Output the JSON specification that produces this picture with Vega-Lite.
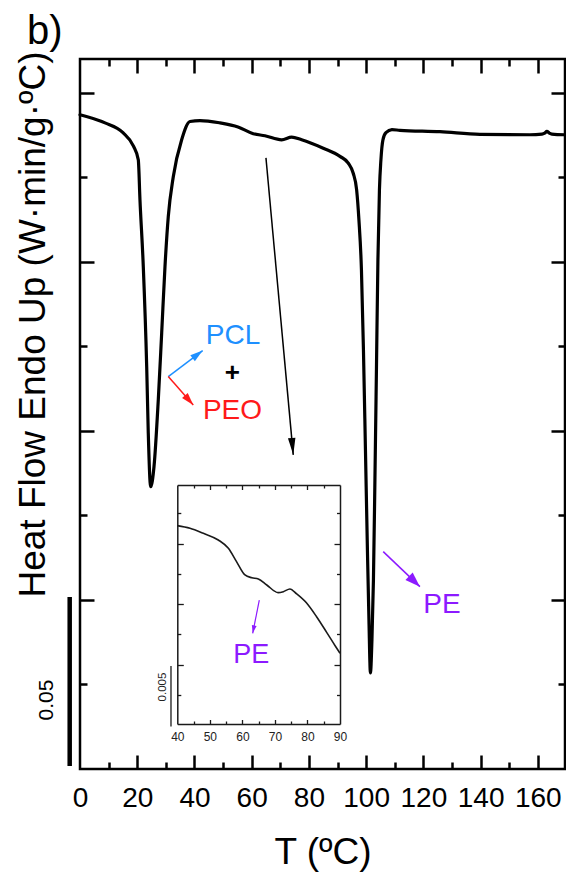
{
  "$schema": "https://vega.github.io/schema/vega-lite/v6.json",
  "width": 485,
  "height": 710,
  "autosize": "none",
  "padding": {"left": 80, "top": 59, "right": 1, "bottom": 103},
  "background": "white",
  "datasets": {
    "curve": [
      {"T": 0.0, "hf": 0.1935}, {"T": 8.74, "hf": 0.1911}, {"T": 15.02, "hf": 0.1882},
      {"T": 18.69, "hf": 0.1842}, {"T": 20.37, "hf": 0.1802}, {"T": 20.96, "hf": 0.1683},
      {"T": 22.12, "hf": 0.1486}, {"T": 23.31, "hf": 0.119}, {"T": 23.86, "hf": 0.0994},
      {"T": 24.7, "hf": 0.0835}, {"T": 25.86, "hf": 0.0894}, {"T": 27.36, "hf": 0.1092},
      {"T": 28.55, "hf": 0.129}, {"T": 29.7, "hf": 0.1486}, {"T": 30.85, "hf": 0.1634},
      {"T": 32.6, "hf": 0.1752}, {"T": 35.53, "hf": 0.1861}, {"T": 38.43, "hf": 0.1915},
      {"T": 41.93, "hf": 0.1918}, {"T": 48.92, "hf": 0.1911}, {"T": 55.21, "hf": 0.1899},
      {"T": 60.55, "hf": 0.1879}, {"T": 64.64, "hf": 0.1873}, {"T": 70.48, "hf": 0.1861},
      {"T": 73.97, "hf": 0.1869}, {"T": 77.46, "hf": 0.1861}, {"T": 85.01, "hf": 0.1836},
      {"T": 90.85, "hf": 0.1812}, {"T": 93.75, "hf": 0.1792}, {"T": 95.49, "hf": 0.1762},
      {"T": 96.68, "hf": 0.1713}, {"T": 97.48, "hf": 0.1624}, {"T": 98.36, "hf": 0.1476},
      {"T": 99.06, "hf": 0.124}, {"T": 99.76, "hf": 0.0944}, {"T": 100.45, "hf": 0.0648},
      {"T": 100.98, "hf": 0.0441}, {"T": 101.5, "hf": 0.0284}, {"T": 102.03, "hf": 0.0382},
      {"T": 102.55, "hf": 0.0559}, {"T": 103.07, "hf": 0.0855}, {"T": 103.6, "hf": 0.1181},
      {"T": 104.12, "hf": 0.1506}, {"T": 104.65, "hf": 0.1713}, {"T": 105.17, "hf": 0.1802},
      {"T": 105.87, "hf": 0.1861}, {"T": 106.92, "hf": 0.1882}, {"T": 109.01, "hf": 0.1891},
      {"T": 111.81, "hf": 0.1889}, {"T": 125.79, "hf": 0.1885}, {"T": 139.76, "hf": 0.1877},
      {"T": 157.23, "hf": 0.1876}, {"T": 161.43, "hf": 0.1878}, {"T": 162.4, "hf": 0.1881},
      {"T": 163.17, "hf": 0.1886}, {"T": 164.0, "hf": 0.1881}, {"T": 164.92, "hf": 0.1878},
      {"T": 169.46, "hf": 0.1876}
    ],
    "inset": [
      {"Ti": 40.0, "hfi": 0.0165}, {"Ti": 43.9, "hfi": 0.01628}, {"Ti": 48.0, "hfi": 0.01586},
      {"Ti": 52.6, "hfi": 0.01531}, {"Ti": 55.7, "hfi": 0.01462}, {"Ti": 58.2, "hfi": 0.01352},
      {"Ti": 60.8, "hfi": 0.01242}, {"Ti": 62.9, "hfi": 0.01219}, {"Ti": 64.9, "hfi": 0.01209},
      {"Ti": 67.5, "hfi": 0.01159}, {"Ti": 71.0, "hfi": 0.01096}, {"Ti": 72.6, "hfi": 0.01104},
      {"Ti": 74.6, "hfi": 0.01126}, {"Ti": 76.7, "hfi": 0.01085}, {"Ti": 79.8, "hfi": 0.01008},
      {"Ti": 82.8, "hfi": 0.00897}, {"Ti": 85.9, "hfi": 0.00768}, {"Ti": 88.5, "hfi": 0.00657},
      {"Ti": 90.0, "hfi": 0.00595}
    ],
    "arrows": [
      {"polymer": "PCL", "T": 30.85, "hf": 0.11607, "T2": 42.87, "hf2": 0.12376},
      {"polymer": "PEO", "T": 30.85, "hf": 0.11607, "T2": 39.59, "hf2": 0.10769},
      {"polymer": "PE", "T": 105.97, "hf": 0.06429, "T2": 118.8, "hf2": 0.05394},
      {"polymer": "none", "T": 64.99, "hf": 0.18077, "T2": 74.53, "hf2": 0.0929}
    ],
    "labels": [
      {"label": "PCL", "polymer": "PCL", "T": 53.46, "hf": 0.12574},
      {"label": "PEO", "polymer": "PEO", "T": 53.28, "hf": 0.10355},
      {"label": "PE", "polymer": "PE", "T": 126.48, "hf": 0.04601}
    ],
    "plus": [{"label": "+", "T": 53.28, "hf": 0.11465}],
    "panel": [{"label": "b)", "T": -18.5, "hf": 0.2145}],
    "scalebar": [{"label": "0.05", "T": -3.6, "Tl": -11.5, "hf": 0.0009, "hf2": 0.0509, "hfl": 0.0204}],
    "insetArrow": [{"polymer": "PE", "Ti": 65.2, "hfi": 0.01035, "Ti2": 63.17, "hfi2": 0.0076}],
    "insetLabel": [{"label": "PE", "polymer": "PE", "Ti": 62.74, "hfi": 0.00512}],
    "insetBar": [{"label": "0.005", "Ti": 38.06, "Til": 35.6, "hfi": -0.0001, "hfi2": 0.0049, "hfil": 0.00316}]
  },
  "layer": [
    {
      "layer": [
        {
          "data": {"name": "curve"},
          "mark": {"type": "line", "color": "black", "strokeWidth": 3.2, "interpolate": "monotone", "strokeCap": "round", "strokeJoin": "round"},
          "encoding": {
            "x": {
              "field": "T", "type": "quantitative",
              "scale": {"domain": [0, 169.5], "nice": false, "zero": false},
              "axis": {
                "orient": "bottom", "values": [0, 20, 40, 60, 80, 100, 120, 140, 160],
                "ticks": false, "domain": false, "labelFontSize": 28, "labelPadding": 15,
                "labelFlush": false, "labelOverlap": false,
                "title": "T (ºC)", "titleFontSize": 37, "titleY": 94, "titleBaseline": "alphabetic"
              }
            },
            "y": {
              "field": "hf", "type": "quantitative",
              "scale": {"domain": [0, 0.21], "nice": false, "zero": false},
              "axis": {
                "orient": "left", "values": [0.025, 0.05, 0.075, 0.1, 0.125, 0.15, 0.175, 0.2],
                "labels": false, "domain": false, "tickWidth": 2.5,
                "tickSize": {"condition": {"test": "round(datum.value*1000) % 50 === 0", "value": -14}, "value": -7},
                "title": "Heat Flow Endo Up (W·min/g·ºC)", "titleFontSize": 37,
                "titleX": -36, "titleY": 265, "titleAngle": 270, "titleBaseline": "alphabetic", "titleAlign": "center"
              }
            }
          }
        },
        {
          "data": {"name": "arrows"},
          "mark": {"type": "rule", "strokeWidth": 1.5},
          "encoding": {
            "x": {
              "field": "T", "type": "quantitative",
              "axis": {
                "orient": "bottom", "values": [10, 20, 30, 40, 50, 60, 70, 80, 90, 100, 110, 120, 130, 140, 150, 160],
                "labels": false, "domain": false, "title": null, "tickWidth": 2.5,
                "tickSize": {"condition": {"test": "datum.value % 20 === 0", "value": -14}, "value": -7}
              }
            },
            "x2": {"field": "T2"},
            "y": {
              "field": "hf", "type": "quantitative",
              "axis": {
                "orient": "right", "values": [0.025, 0.05, 0.075, 0.1, 0.125, 0.15, 0.175, 0.2],
                "labels": false, "domain": false, "title": null, "tickWidth": 2.5,
                "tickSize": {"condition": {"test": "round(datum.value*1000) % 50 === 0", "value": -14}, "value": -7}
              }
            },
            "y2": {"field": "hf2"},
            "color": {
              "field": "polymer", "type": "nominal", "legend": null,
              "scale": {"domain": ["PCL", "PEO", "PE", "none"], "range": ["#1e90ff", "#ff1a1a", "#8c1aff", "#000000"]}
            }
          }
        },
        {
          "data": {"name": "labels"},
          "mark": {"type": "text", "fontSize": 28, "font": "Liberation Sans", "align": "center", "baseline": "alphabetic"},
          "encoding": {
            "x": {
              "field": "T", "type": "quantitative",
              "axis": {
                "orient": "top", "values": [10, 20, 30, 40, 50, 60, 70, 80, 90, 100, 110, 120, 130, 140, 150, 160],
                "labels": false, "domain": false, "title": null, "tickWidth": 2.5,
                "tickSize": {"condition": {"test": "datum.value % 20 === 0", "value": -14}, "value": -7}
              }
            },
            "y": {"field": "hf", "type": "quantitative", "axis": null},
            "text": {"field": "label"},
            "color": {"field": "polymer", "type": "nominal", "legend": null}
          }
        },
        {
          "data": {"name": "plus"},
          "mark": {"type": "text", "fontSize": 26, "fontWeight": "bold", "font": "Liberation Sans", "align": "center", "baseline": "alphabetic", "color": "black"},
          "encoding": {
            "x": {"field": "T", "type": "quantitative", "axis": null},
            "y": {"field": "hf", "type": "quantitative", "axis": null},
            "text": {"field": "label"}
          }
        },
        {
          "data": {"name": "panel"},
          "mark": {"type": "text", "fontSize": 40, "font": "Liberation Sans", "align": "left", "baseline": "alphabetic", "color": "black"},
          "encoding": {
            "x": {"field": "T", "type": "quantitative", "axis": null},
            "y": {"field": "hf", "type": "quantitative", "axis": null},
            "text": {"field": "label"}
          }
        },
        {
          "data": {"name": "arrows"},
          "transform": [{"filter": "datum.polymer === 'PCL'"}],
          "mark": {"type": "point", "shape": "M0,0L-0.3,1L0.3,1Z", "filled": true, "opacity": 1, "angle": 52.9, "size": 640, "strokeWidth": 0},
          "encoding": {
            "x": {"field": "T2", "type": "quantitative", "axis": null},
            "y": {"field": "hf2", "type": "quantitative", "axis": null},
            "color": {"field": "polymer", "type": "nominal", "legend": null}
          }
        },
        {
          "data": {"name": "arrows"},
          "transform": [{"filter": "datum.polymer === 'PEO'"}],
          "mark": {"type": "point", "shape": "M0,0L-0.3,1L0.3,1Z", "filled": true, "opacity": 1, "angle": 138.5, "size": 640, "strokeWidth": 0},
          "encoding": {
            "x": {"field": "T2", "type": "quantitative", "axis": null},
            "y": {"field": "hf2", "type": "quantitative", "axis": null},
            "color": {"field": "polymer", "type": "nominal", "legend": null}
          }
        },
        {
          "data": {"name": "arrows"},
          "transform": [{"filter": "datum.polymer === 'PE'"}],
          "mark": {"type": "point", "shape": "M0,0L-0.35,1L0.35,1Z", "filled": true, "opacity": 1, "angle": 133.6, "size": 900, "strokeWidth": 0},
          "encoding": {
            "x": {"field": "T2", "type": "quantitative", "axis": null},
            "y": {"field": "hf2", "type": "quantitative", "axis": null},
            "color": {"field": "polymer", "type": "nominal", "legend": null}
          }
        },
        {
          "data": {"name": "arrows"},
          "transform": [{"filter": "datum.polymer === 'none'"}],
          "mark": {"type": "point", "shape": "M0,0L-0.22,1L0.22,1Z", "filled": true, "opacity": 1, "angle": 174.75, "size": 1156, "strokeWidth": 0},
          "encoding": {
            "x": {"field": "T2", "type": "quantitative", "axis": null},
            "y": {"field": "hf2", "type": "quantitative", "axis": null},
            "color": {"field": "polymer", "type": "nominal", "legend": null}
          }
        },
        {
          "data": {"name": "scalebar"},
          "mark": {"type": "rule", "color": "black", "strokeWidth": 4.5},
          "encoding": {
            "x": {"field": "T", "type": "quantitative", "axis": null},
            "y": {"field": "hf", "type": "quantitative", "axis": null},
            "y2": {"field": "hf2"}
          }
        },
        {
          "data": {"name": "scalebar"},
          "mark": {"type": "text", "fontSize": 21, "font": "Liberation Sans", "angle": 270, "align": "center", "baseline": "middle", "color": "black"},
          "encoding": {
            "x": {"field": "Tl", "type": "quantitative", "axis": null},
            "y": {"field": "hfl", "type": "quantitative", "axis": null},
            "text": {"field": "label"}
          }
        }
      ],
      "resolve": {"axis": {"x": "independent", "y": "independent"}}
    },
    {
      "layer": [
        {
          "data": {"name": "inset"},
          "mark": {"type": "line", "color": "#1a1a1a", "strokeWidth": 1.6, "interpolate": "monotone"},
          "encoding": {
            "x": {
              "field": "Ti", "type": "quantitative",
              "scale": {"domain": [40, 90], "range": [97.3, 260], "nice": false, "zero": false},
              "axis": {
                "orient": "bottom", "offset": -45, "values": [40, 50, 60, 70, 80, 90],
                "ticks": false, "domain": false, "labelFontSize": 12, "labelPadding": 7,
                "labelFlush": false, "labelOverlap": false, "labelColor": "#222", "title": null
              }
            },
            "y": {
              "field": "hfi", "type": "quantitative",
              "scale": {"domain": [0.0001033, 0.019855], "range": [665, 426], "nice": false, "zero": false},
              "axis": {
                "orient": "left", "offset": -97.3,
                "values": [0.0025, 0.005, 0.0075, 0.01, 0.0125, 0.015, 0.0175],
                "labels": false, "domain": true, "domainWidth": 1.5, "domainColor": "#1a1a1a",
                "tickWidth": 1.3, "tickColor": "#1a1a1a", "title": null,
                "tickSize": {"condition": {"test": "round(datum.value*10000) % 50 === 0", "value": -6}, "value": -3.5}
              }
            }
          }
        },
        {
          "data": {"name": "insetArrow"},
          "mark": {"type": "rule", "strokeWidth": 1.2},
          "encoding": {
            "x": {
              "field": "Ti", "type": "quantitative",
              "axis": {
                "orient": "bottom", "offset": -45, "values": [45, 50, 55, 60, 65, 70, 75, 80, 85],
                "labels": false, "domain": true, "domainWidth": 1.5, "domainColor": "#1a1a1a",
                "tickWidth": 1.3, "tickColor": "#1a1a1a", "title": null,
                "tickSize": {"condition": {"test": "datum.value % 10 === 0", "value": -4.5}, "value": -3}
              }
            },
            "x2": {"field": "Ti2"},
            "y": {
              "field": "hfi", "type": "quantitative",
              "axis": {
                "orient": "right", "offset": -225,
                "values": [0.0025, 0.005, 0.0075, 0.01, 0.0125, 0.015, 0.0175],
                "labels": false, "domain": true, "domainWidth": 1.5, "domainColor": "#1a1a1a",
                "tickWidth": 1.3, "tickColor": "#1a1a1a", "title": null,
                "tickSize": {"condition": {"test": "round(datum.value*10000) % 50 === 0", "value": -6}, "value": -3.5}
              }
            },
            "y2": {"field": "hfi2"},
            "color": {"field": "polymer", "type": "nominal", "legend": null}
          }
        },
        {
          "data": {"name": "insetLabel"},
          "mark": {"type": "text", "fontSize": 27, "font": "Liberation Sans", "align": "center", "baseline": "alphabetic"},
          "encoding": {
            "x": {
              "field": "Ti", "type": "quantitative",
              "axis": {
                "orient": "top", "offset": -426, "values": [45, 50, 55, 60, 65, 70, 75, 80, 85],
                "labels": false, "domain": true, "domainWidth": 1.5, "domainColor": "#1a1a1a",
                "tickWidth": 1.3, "tickColor": "#1a1a1a", "title": null,
                "tickSize": {"condition": {"test": "datum.value % 10 === 0", "value": -4.5}, "value": -3}
              }
            },
            "y": {"field": "hfi", "type": "quantitative", "axis": null},
            "text": {"field": "label"},
            "color": {"field": "polymer", "type": "nominal", "legend": null}
          }
        },
        {
          "data": {"name": "insetArrow"},
          "mark": {"type": "point", "shape": "M0,0L-0.3,1L0.3,1Z", "filled": true, "opacity": 1, "angle": 191.2, "size": 256, "strokeWidth": 0},
          "encoding": {
            "x": {"field": "Ti2", "type": "quantitative", "axis": null},
            "y": {"field": "hfi2", "type": "quantitative", "axis": null},
            "color": {"field": "polymer", "type": "nominal", "legend": null}
          }
        },
        {
          "data": {"name": "insetBar"},
          "mark": {"type": "rule", "color": "#1a1a1a", "strokeWidth": 1.3},
          "encoding": {
            "x": {"field": "Ti", "type": "quantitative", "axis": null},
            "y": {"field": "hfi", "type": "quantitative", "axis": null},
            "y2": {"field": "hfi2"}
          }
        },
        {
          "data": {"name": "insetBar"},
          "mark": {"type": "text", "fontSize": 11.5, "font": "Liberation Sans", "angle": 270, "align": "center", "baseline": "middle", "color": "#222"},
          "encoding": {
            "x": {"field": "Til", "type": "quantitative", "axis": null},
            "y": {"field": "hfil", "type": "quantitative", "axis": null},
            "text": {"field": "label"}
          }
        }
      ],
      "resolve": {"axis": {"x": "independent", "y": "independent"}}
    }
  ],
  "resolve": {
    "scale": {"x": "independent", "y": "independent"},
    "axis": {"x": "independent", "y": "independent"}
  },
  "config": {
    "view": {"stroke": "black", "strokeWidth": 2.5},
    "axis": {
      "grid": false,
      "labelFont": "Liberation Sans",
      "titleFont": "Liberation Sans",
      "titleFontWeight": "normal",
      "labelColor": "black",
      "titleColor": "black",
      "tickColor": "black",
      "domainColor": "black"
    },
    "text": {"font": "Liberation Sans"}
  }
}
